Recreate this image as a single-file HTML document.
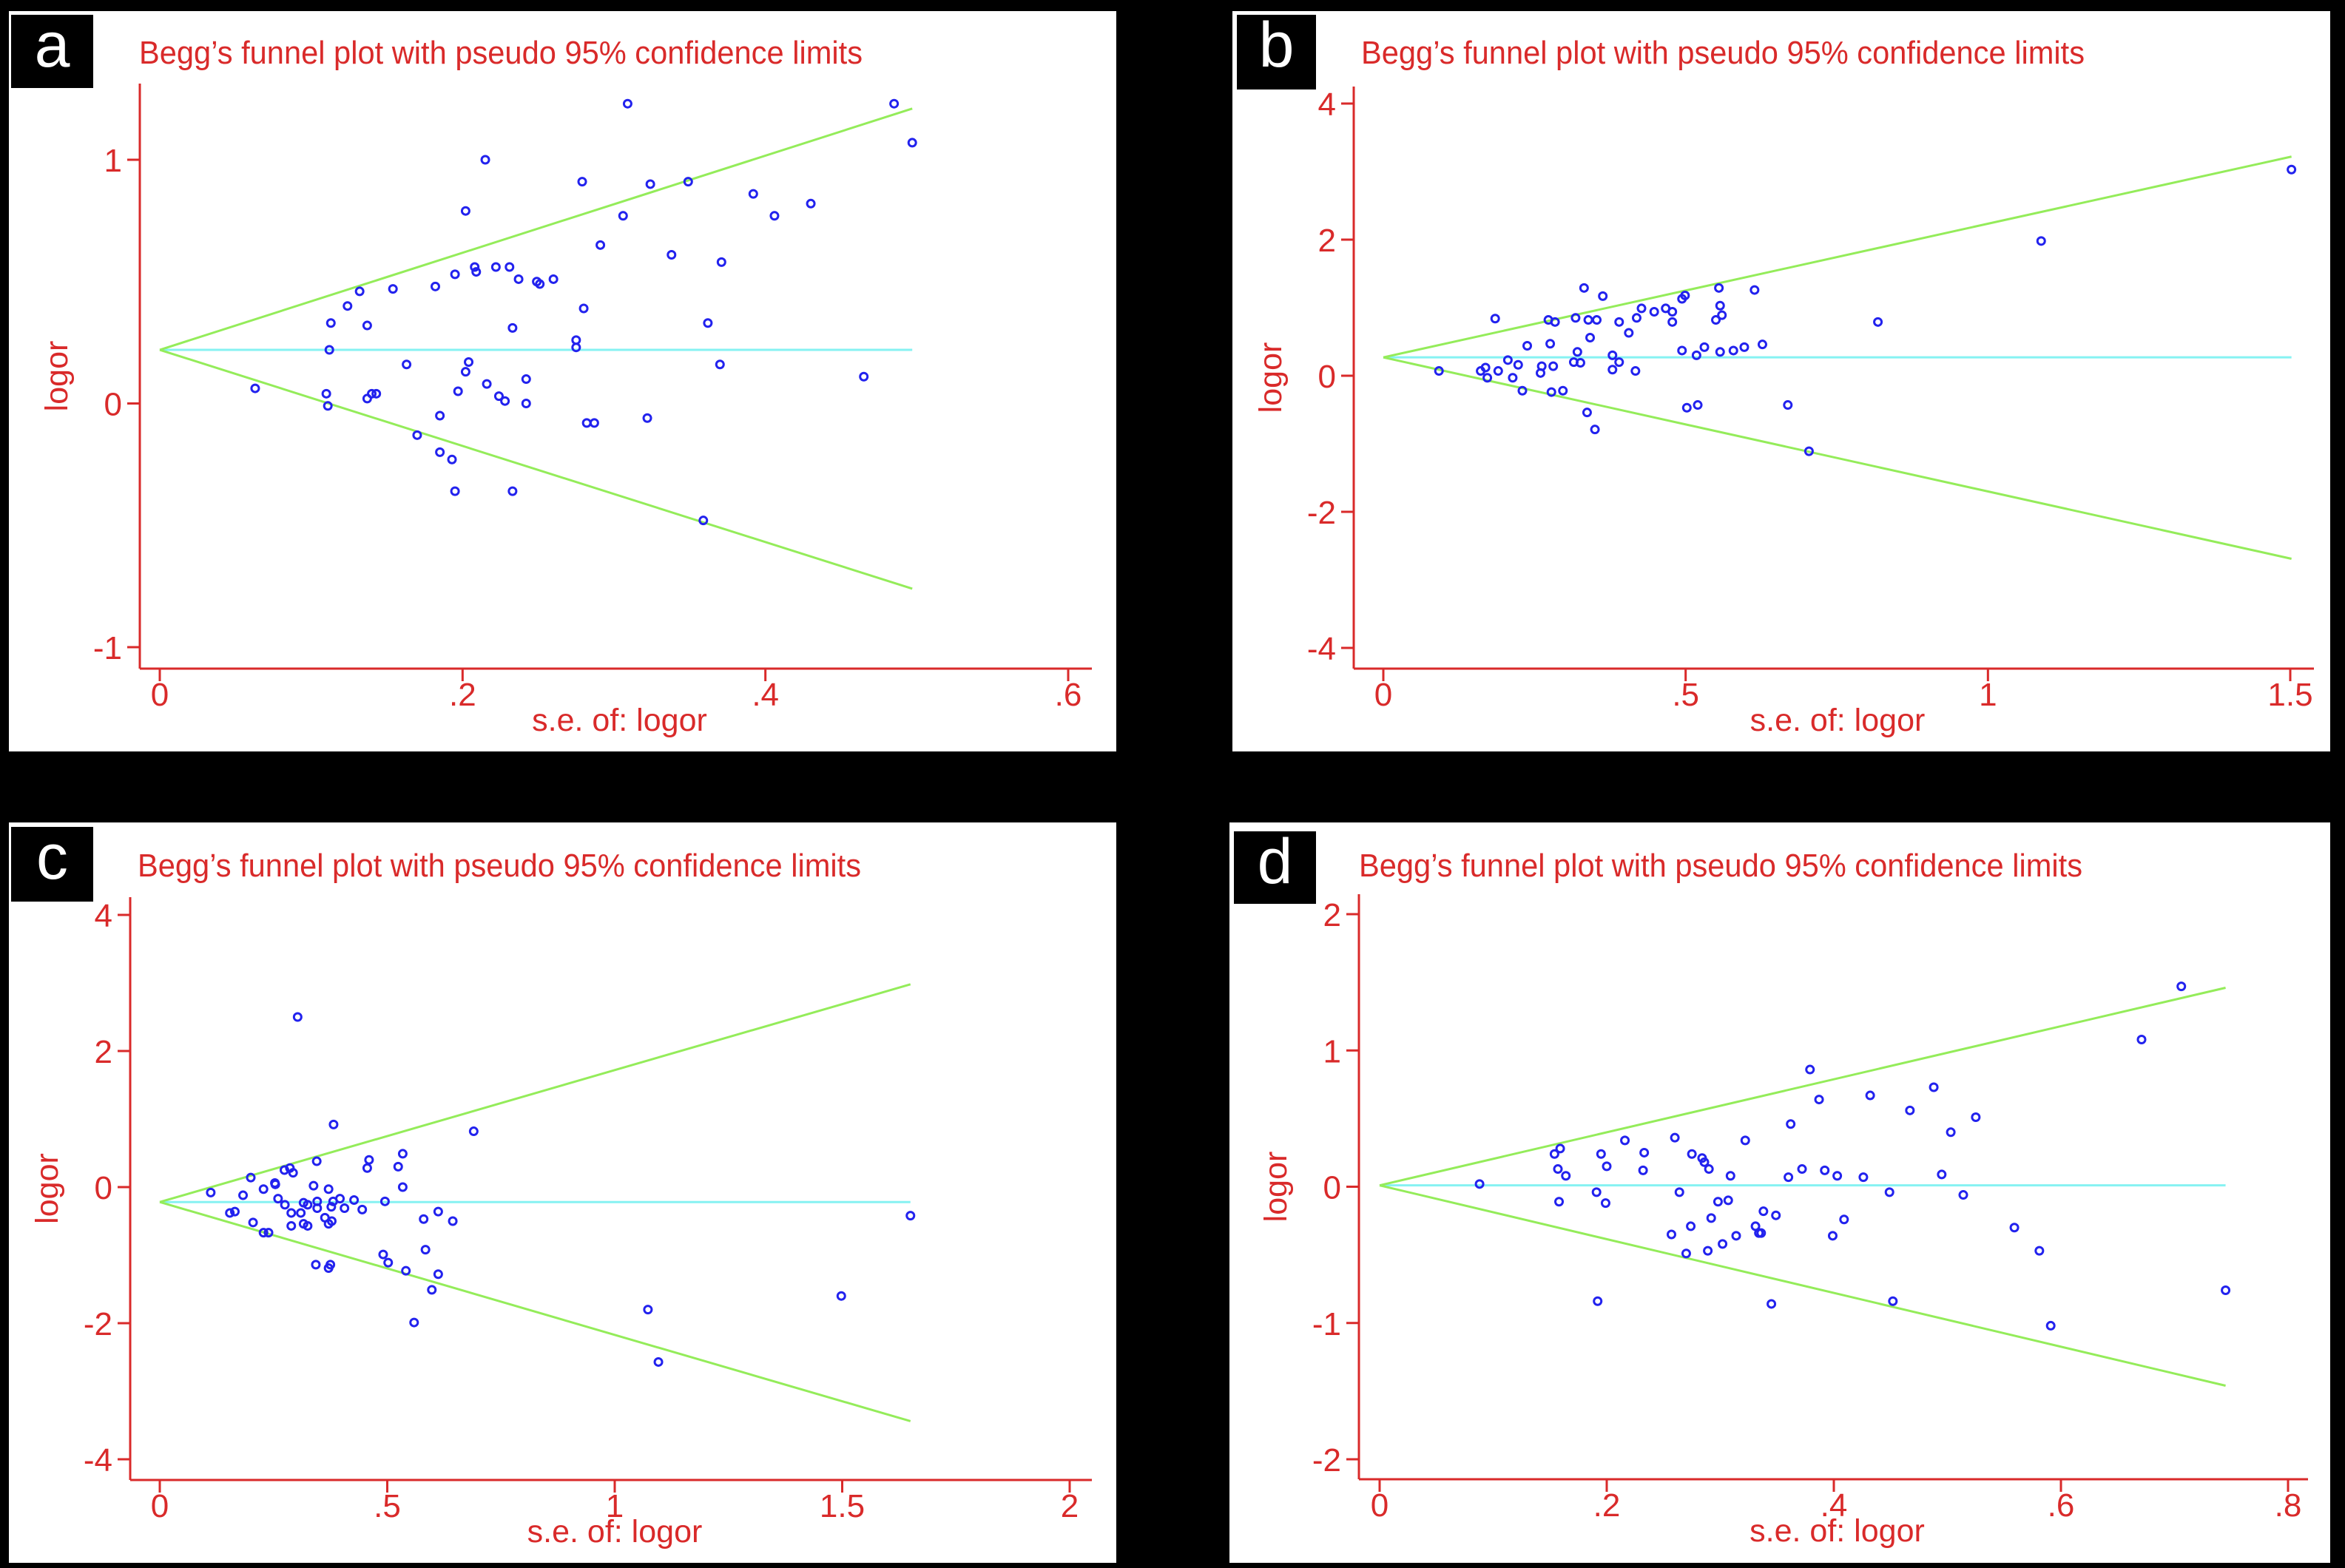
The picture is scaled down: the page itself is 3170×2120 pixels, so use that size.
<!DOCTYPE html>
<html><head><meta charset="utf-8"><style>
html,body{margin:0;padding:0;background:#000;}
svg{display:block;}
text{font-family:"Liberation Sans",sans-serif;}
</style></head><body>
<svg id="chart" width="3170" height="2120" viewBox="0 0 3170 2120" xmlns="http://www.w3.org/2000/svg">
<rect x="0" y="0" width="3170" height="2120" fill="#000"/>
</svg>
<script>
// Panel a data
const aSe=[.063,.309,.485,.497,.215,.279,.324,.349,.392,.43,.406,.306,.202,.291,.338,.371,.208,.209,.222,.231,.195,.237,.249,.251,.26,.182,.154,.132,.124,.113,.137,.28,.233,.362,.275,.275,.112,.163,.204,.202,.37,.465,.242,.216,.11,.137,.14,.143,.197,.224,.228,.242,.111,.185,.282,.287,.322,.17,.185,.193,.195,.233,.359];
const aLogor=[.062,1.23,1.23,1.07,1.0,.91,.90,.91,.86,.82,.77,.77,.79,.65,.61,.58,.56,.54,.56,.56,.53,.51,.50,.49,.51,.48,.47,.46,.40,.33,.32,.39,.31,.33,.26,.23,.22,.16,.17,.13,.16,.11,.10,.08,.04,.02,.04,.04,.05,.03,.01,.00,-.01,-.05,-.08,-.08,-.06,-.13,-.20,-.23,-.36,-.36,-.48];
const aXTicks=[0,.2,.4,.6];
const aXLabels=["0",".2",".4",".6"];
const aYTicks=[1,0,-1];
const aYLabels=["1","0","-1"];
const aFunnel=[0.22,0.497,1.21,-0.76]; // [center, maxSe, upperEnd, lowerEnd]

// Panel b data
const bSe=[.092,.185,.161,.169,.172,.19,.206,.214,.223,.23,.238,.26,.262,.273,.276,.278,.281,.284,.297,.315,.318,.321,.326,.332,.337,.339,.342,.35,.353,.363,.379,.379,.39,.39,.406,.417,.419,.427,.448,.467,.478,.478,.494,.499,.494,.502,.518,.52,.531,.55,.555,.557,.557,.56,.579,.597,.614,.627,.669,.704,1.088,.818,1.502];
const bLogor=[.07,.84,.07,.12,-.03,.07,.23,-.03,.16,-.22,.44,.04,.14,.82,.47,-.24,.14,.79,-.22,.20,.85,.35,.19,1.29,-.54,.82,.56,-.79,.82,1.17,.30,.09,.79,.20,.63,.07,.85,.99,.94,.99,.94,.79,1.13,1.18,.37,-.47,.30,-.43,.42,.82,1.29,1.03,.35,.89,.37,.42,1.26,.46,-.43,-1.11,1.98,.79,3.03];
const bXTicks=[0,.5,1,1.5];
const bXLabels=["0",".5","1","1.5"];
const bYTicks=[4,2,0,-2,-4];
const bYLabels=["4","2","0","-2","-4"];
const bFunnel=[0.27,1.502,3.22,-2.69];

// Panel c data
const cSe=[.112,.183,.2,.154,.165,.205,.228,.228,.239,.253,.254,.26,.275,.274,.286,.293,.289,.289,.303,.31,.316,.325,.316,.325,.338,.345,.346,.346,.343,.363,.371,.371,.378,.377,.381,.382,.371,.375,.396,.406,.427,.445,.456,.46,.491,.495,.502,.524,.534,.534,.541,.559,.58,.584,.598,.612,.612,.644,.69,1.073,1.096,1.498,1.65];
const cLogor=[-.08,-.12,.14,-.38,-.36,-.52,-.03,-.67,-.67,.06,.04,-.17,-.26,.25,.28,.21,-.38,-.57,2.50,-.38,-.23,-.26,-.54,-.57,.02,.38,-.21,-.31,-1.14,-.45,-.03,-.54,-.50,-.29,-.21,.92,-1.19,-1.14,-.17,-.31,-.19,-.33,.28,.40,-.99,-.21,-1.11,.30,.49,.00,-1.23,-1.99,-.47,-.92,-1.51,-.36,-1.28,-.50,.82,-1.80,-2.57,-1.60,-.42];
const cXTicks=[0,.5,1,1.5,2];
const cXLabels=["0",".5","1","1.5","2"];
const cYTicks=[4,2,0,-2,-4];
const cYLabels=["4","2","0","-2","-4"];
const cFunnel=[-0.22,1.65,2.98,-3.44];

// Panel d data
const dSe=[.088,.706,.671,.379,.488,.387,.432,.467,.525,.362,.503,.26,.216,.322,.154,.159,.195,.233,.275,.284,.286,.29,.157,.2,.232,.372,.392,.164,.309,.403,.36,.426,.495,.191,.264,.449,.514,.158,.199,.298,.307,.338,.349,.292,.409,.274,.331,.334,.336,.559,.257,.314,.399,.302,.289,.27,.581,.745,.192,.345,.452,.591];
const dLogor=[.02,1.47,1.08,.86,.73,.64,.67,.56,.51,.46,.40,.36,.34,.34,.24,.28,.24,.25,.24,.21,.18,.13,.13,.15,.12,.13,.12,.08,.08,.08,.07,.07,.09,-.04,-.04,-.04,-.06,-.11,-.12,-.11,-.10,-.18,-.21,-.23,-.24,-.29,-.29,-.34,-.34,-.30,-.35,-.36,-.36,-.42,-.47,-.49,-.47,-.76,-.84,-.86,-.84,-1.02];
const dXTicks=[0,.2,.4,.6,.8];
const dXLabels=["0",".2",".4",".6",".8"];
const dYTicks=[2,1,0,-1,-2];
const dYLabels=["2","1","0","-1","-2"];
const dFunnel=[0.01,0.745,1.46,-1.46];

const NS="http://www.w3.org/2000/svg";
const svg=document.getElementById('chart');
const RED="#d92a2a", GREEN="#94ec5a", CYAN="#86f2f2", BLUE="#2222ee";

function mk(tag,attrs,parent){
  const e=document.createElementNS(NS,tag);
  for(const k in attrs) e.setAttribute(k,attrs[k]);
  (parent||svg).appendChild(e);
  return e;
}

function panel(p){
  const g=mk('g',{});
  
  
  const bg=mk('rect',{x:p.box[0],y:p.box[1],width:p.box[2]-p.box[0],height:p.box[3]-p.box[1],fill:'#fff'},g);
  
  
  const lb=mk('rect',{x:p.lbl[0],y:p.lbl[1],width:p.lbl[2]-p.lbl[0],height:p.lbl[3]-p.lbl[1],fill:'#000'},g);
  
  
  const lt=mk('text',{x:(p.lbl[0]+p.lbl[2])/2,y:p.lbl[1]+70,'text-anchor':'middle','font-size':86,fill:'#fff'},g);
  lt.textContent=p.id;
  
  
  const tt=mk('text',{x:p.titleX,y:p.titleY,'font-size':44,fill:RED,textLength:978,lengthAdjust:'spacingAndGlyphs'},g);
  tt.textContent="Begg\u2019s funnel plot with pseudo 95% confidence limits";
  
  
  const X=v=>p.x0+(v-p.xd[0])*(p.x1-p.x0)/(p.xd[1]-p.xd[0]);
  const Y=v=>p.y0+(v-p.yd[0])*(p.y1-p.y0)/(p.yd[1]-p.yd[0]);
  const ya=mk('line',{x1:p.ax,y1:p.axTop,x2:p.ax,y2:p.ay,stroke:RED,'stroke-width':3},g);
  
  
  const xa=mk('line',{x1:p.ax,y1:p.ay,x2:p.axRight,y2:p.ay,stroke:RED,'stroke-width':3},g);
  
  
  p.yt.forEach((v,i)=>{
    const t=mk('line',{x1:p.ax-17,y1:Y(v),x2:p.ax,y2:Y(v),stroke:RED,'stroke-width':3},g);
    
    
    const l=mk('text',{x:p.ax-24,y:Y(v)+16,'text-anchor':'end','font-size':44,fill:RED},g);
    l.textContent=p.yl[i];
    
    
  });
  p.xt.forEach((v,i)=>{
    const t=mk('line',{x1:X(v),y1:p.ay,x2:X(v),y2:p.ay+17,stroke:RED,'stroke-width':3},g);
    
    
    const l=mk('text',{x:X(v),y:p.ay+50,'text-anchor':'middle','font-size':44,fill:RED},g);
    l.textContent=p.xl[i];
    
    
  });
  const xt=mk('text',{x:(p.ax+p.axRight)/2+5,y:p.ay+84,'text-anchor':'middle','font-size':43,fill:RED},g);
  xt.textContent="s.e. of: logor";
  
  
  const cy=(p.axTop+p.ay)/2;
  const yt=mk('text',{x:p.ax-98,y:cy,'text-anchor':'middle','font-size':43,fill:RED,transform:`rotate(-90 ${p.ax-98} ${cy})`},g);
  yt.textContent="logor";
  
  
  const f=p.funnel;
  const cl=mk('line',{x1:X(0),y1:Y(f[0]),x2:X(f[1]),y2:Y(f[0]),stroke:CYAN,'stroke-width':3},g);
  
  
  const ul=mk('line',{x1:X(0),y1:Y(f[0]),x2:X(f[1]),y2:Y(f[2]),stroke:GREEN,'stroke-width':3},g);
  
  
  const ll=mk('line',{x1:X(0),y1:Y(f[0]),x2:X(f[1]),y2:Y(f[3]),stroke:GREEN,'stroke-width':3},g);
  
  
  p.se.forEach((s,i)=>{
    const c=mk('circle',{cx:X(s),cy:Y(p.lo[i]),r:5,fill:'none',stroke:BLUE,'stroke-width':3},g);
    
    
  });
}

panel({id:'a',box:[12,15,1509,1016],lbl:[15,20,126,119],titleX:188,titleY:86,
  ax:189,axTop:113,ay:904,axRight:1476,x0:216,x1:1444,xd:[0,.6],y0:216,y1:875,yd:[1,-1],
  xt:aXTicks,xl:aXLabels,yt:aYTicks,yl:aYLabels,se:aSe,lo:aLogor,funnel:aFunnel});
panel({id:'b',box:[1666,15,3150,1016],lbl:[1672,20,1779,121],titleX:1840,titleY:86,
  ax:1830,axTop:117,ay:904,axRight:3128,x0:1870,x1:3096,xd:[0,1.5],y0:140,y1:876,yd:[4,-4],
  xt:bXTicks,xl:bXLabels,yt:bYTicks,yl:bYLabels,se:bSe,lo:bLogor,funnel:bFunnel});
panel({id:'c',box:[12,1112,1509,2113],lbl:[15,1118,126,1219],titleX:186,titleY:1185,
  ax:176,axTop:1213,ay:2001,axRight:1476,x0:216,x1:1446,xd:[0,2],y0:1237,y1:1973,yd:[4,-4],
  xt:cXTicks,xl:cXLabels,yt:cYTicks,yl:cYLabels,se:cSe,lo:cLogor,funnel:cFunnel});
panel({id:'d',box:[1662,1112,3150,2113],lbl:[1668,1124,1779,1222],titleX:1837,titleY:1185,
  ax:1837,axTop:1209,ay:2000,axRight:3120,x0:1865,x1:3093,xd:[0,.8],y0:1236,y1:1973,yd:[2,-2],
  xt:dXTicks,xl:dXLabels,yt:dYTicks,yl:dYLabels,se:dSe,lo:dLogor,funnel:dFunnel});
</script>
</body></html>
